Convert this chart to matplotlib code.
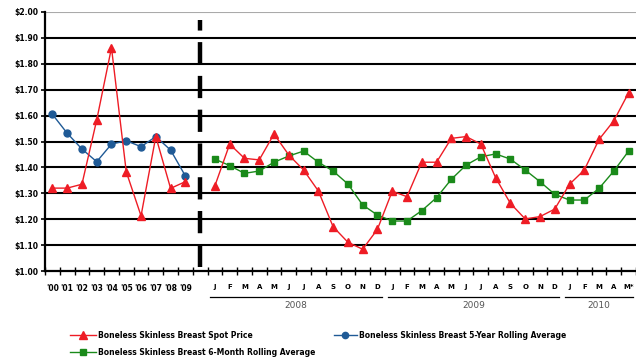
import numpy as np
import matplotlib
matplotlib.use("Agg")
import matplotlib.pyplot as plt
from matplotlib.lines import Line2D

# Annual part (2000-2009)
year_labels = ["'00", "'01", "'02", "'03", "'04", "'05", "'06", "'07", "'08", "'09"]
annual_spot = [1.32, 1.32, 1.335, 1.583, 1.862, 1.383, 1.213, 1.519, 1.319, 1.345]
annual_avg5 = [1.605, 1.532, 1.471, 1.422, 1.490, 1.503, 1.480, 1.519, 1.467, 1.367]

# Monthly part (Jan 2008 - May 2010)
month_labels = ["J", "F", "M", "A", "M", "J", "J", "A", "S", "O", "N", "D",
                "J", "F", "M", "A", "M", "J", "J", "A", "S", "O", "N", "D",
                "J", "F", "M", "A", "M*"]
monthly_spot = [1.329, 1.490, 1.435, 1.429, 1.529, 1.448, 1.390, 1.309, 1.171, 1.111, 1.084, 1.161,
                1.308, 1.287, 1.420, 1.420, 1.512, 1.519, 1.490, 1.360, 1.261, 1.201, 1.210, 1.239,
                1.335, 1.390, 1.508, 1.580, 1.688]
monthly_avg6 = [1.432, 1.407, 1.377, 1.386, 1.420, 1.444, 1.463, 1.420, 1.386, 1.336, 1.255, 1.216,
                1.193, 1.193, 1.233, 1.283, 1.354, 1.409, 1.441, 1.452, 1.432, 1.390, 1.345, 1.296,
                1.274, 1.274, 1.319, 1.386, 1.463]
year_groups = [("2008", 0, 12), ("2009", 12, 24), ("2010", 24, 29)]

y_ticks = [1.0, 1.1, 1.2, 1.3, 1.4, 1.5, 1.6, 1.7, 1.8, 1.9, 2.0]

series_names = ["Boneless Skinless Breast Spot Price",
                "Boneless Skinless Breast 5-Year Rolling Average",
                "Boneless Skinless Breast 6-Month Rolling Average"]

RED = "#ee1c25"
BLUE = "#1f5a96"
GREEN = "#1a8a1a"

n_years = len(year_labels)
x_years = np.arange(n_years)
month_start = n_years + 1
x_months = np.arange(len(month_labels)) + month_start

fig = plt.figure(figsize=(6.36, 3.63), dpi=100)
ax = fig.add_axes([45 / 636, 1 - 271 / 363, 1 - 45 / 636, (271 - 12) / 363])

ax.set_ylim(1.0, 2.0)
ax.set_xlim(-0.4, 39.5)

# horizontal grid lines
for v in y_ticks[1:-1]:
    ax.axhline(v, color="black", lw=1.5, zorder=1)
ax.axhline(2.0, color="#aaaaaa", lw=0.8, zorder=1)

# divider between annual and monthly data
ax.plot([n_years, n_years], [1.015, 1.97], color="black", lw=3.2,
        dashes=(5, 2.6), zorder=2, solid_capstyle="butt")

ms_tri = dict(marker="^", markersize=5.5, color=RED, lw=1.0,
              markeredgecolor=RED, zorder=4)
ax.plot(x_years, annual_spot, **ms_tri)
ax.plot(x_months, monthly_spot, **ms_tri)
ax.plot(x_years, annual_avg5, marker="o", markersize=5, color=BLUE, lw=1.0,
        markeredgecolor=BLUE, zorder=3)
ax.plot(x_months, monthly_avg6, marker="s", markersize=5, color=GREEN, lw=1.0,
        markeredgecolor=GREEN, zorder=3)

# axes styling
for s in ["top", "right"]:
    ax.spines[s].set_visible(False)
ax.spines["left"].set_linewidth(1.6)
ax.spines["bottom"].set_linewidth(1.6)

ax.set_yticks(y_ticks)
ax.set_yticklabels([f"${v:.2f}" for v in y_ticks], fontsize=5.5, fontweight="bold")
ax.tick_params(axis="y", length=3, width=1.2, pad=2)

n_all = month_start + len(month_labels)
ax.set_xticks(np.arange(-0.5, n_all, 1.0))
ax.set_xticklabels([])
ax.tick_params(axis="x", direction="inout", length=6, width=1.0)

# category labels
trans = ax.get_xaxis_transform()
for x, lab in zip(x_years, year_labels):
    ax.text(x, -0.05, lab, transform=trans, ha="center", va="top",
            fontsize=5.5, fontweight="bold")
for x, lab in zip(x_months, month_labels):
    ax.text(x, -0.05, lab, transform=trans, ha="center", va="top",
            fontsize=5.0, fontweight="bold")

# year group labels with underline bars
for name, i0, i1 in year_groups:
    xa = month_start + i0 - 0.3
    xb = month_start + i1 - 1 + 0.3
    ax.plot([xa, xb], [-0.10, -0.10], transform=trans, color="black",
            lw=0.9, clip_on=False)
    ax.text((xa + xb) / 2, -0.115, name, transform=trans, ha="center",
            va="top", fontsize=6.5, color="#555555")

# legend
handles = [
    Line2D([], [], color=RED, marker="^", markersize=5.5, lw=1.0),
    Line2D([], [], color=BLUE, marker="o", markersize=4.5, lw=1.0),
    Line2D([], [], color=GREEN, marker="s", markersize=4.5, lw=1.0),
]
fig.legend([handles[0], handles[2]], [series_names[0], series_names[2]],
           loc="upper left", bbox_to_anchor=(70 / 636, 1 - 331 / 363),
           frameon=False, prop=dict(size=5.5, weight="bold"),
           handlelength=3.4, handletextpad=0.3, labelspacing=1.0,
           borderaxespad=0, borderpad=0)
fig.legend([handles[1]], [series_names[1]],
           loc="upper left", bbox_to_anchor=(334 / 636, 1 - 331 / 363),
           frameon=False, prop=dict(size=5.5, weight="bold"),
           handlelength=3.0, handletextpad=0.3,
           borderaxespad=0, borderpad=0)

fig.savefig("out.png", dpi=100)
